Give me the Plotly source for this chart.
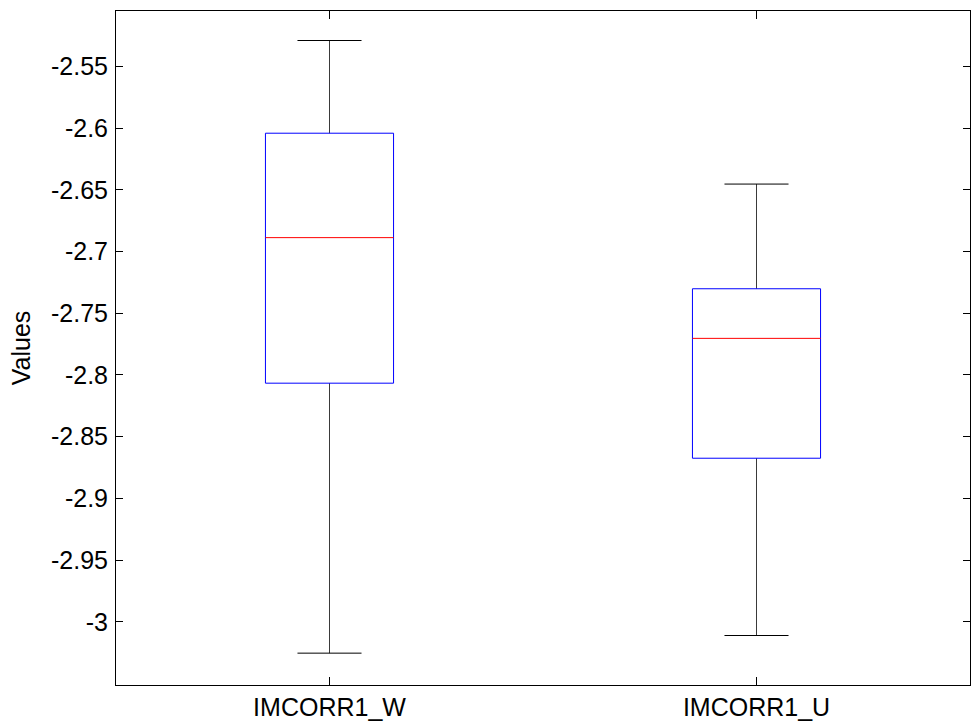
import plotly.graph_objects as go

categories = ["IMCORR1_W", "IMCORR1_U"]
positions = [1, 2]
q1 = [-2.8067, -2.8675]
median = [-2.6888, -2.7704]
q3 = [-2.6042, -2.7302]
lower_whisker = [-3.0254, -3.0111]
upper_whisker = [-2.5291, -2.6454]
ytick_vals = [-3.0, -2.95, -2.9, -2.85, -2.8, -2.75, -2.7, -2.65, -2.6, -2.55]
ytick_text = ["-3", "-2.95", "-2.9", "-2.85", "-2.8", "-2.75", "-2.7", "-2.65", "-2.6", "-2.55"]

box_w = 0.3
cap_w = 0.15

fig = go.Figure()

# whiskers (vertical)
wx, wy = [], []
for p, lo, a, b, hi in zip(positions, lower_whisker, q1, q3, upper_whisker):
    wx += [p, p, None, p, p, None]
    wy += [lo, a, None, b, hi, None]
fig.add_trace(go.Scatter(x=wx, y=wy, mode="lines", line=dict(color="#3a3a3a", width=1),
                         hoverinfo="skip", showlegend=False))

# caps
cx, cy = [], []
for p, lo, hi in zip(positions, lower_whisker, upper_whisker):
    cx += [p - cap_w / 2, p + cap_w / 2, None, p - cap_w / 2, p + cap_w / 2, None]
    cy += [lo, lo, None, hi, hi, None]
fig.add_trace(go.Scatter(x=cx, y=cy, mode="lines", line=dict(color="black", width=1),
                         hoverinfo="skip", showlegend=False))

# boxes (q1..q3 rectangles)
bx, by = [], []
for p, a, b in zip(positions, q1, q3):
    l, r = p - box_w / 2, p + box_w / 2
    bx += [l, r, r, l, l, None]
    by += [a, a, b, b, a, None]
fig.add_trace(go.Scatter(x=bx, y=by, mode="lines", line=dict(color="blue", width=1),
                         hoverinfo="skip", showlegend=False))

# medians
mx, my = [], []
for p, m in zip(positions, median):
    mx += [p - box_w / 2, p + box_w / 2, None]
    my += [m, m, None]
fig.add_trace(go.Scatter(x=mx, y=my, mode="lines", line=dict(color="red", width=1),
                         hoverinfo="skip", showlegend=False))

font = dict(family="Liberation Sans, Arial, sans-serif", size=25, color="black")

fig.update_layout(
    width=977, height=727,
    margin=dict(l=115.5, r=6, t=11, b=40),
    paper_bgcolor="white", plot_bgcolor="white",
    font=font,
    showlegend=False,
    xaxis=dict(range=[0.5, 2.5], tickvals=positions, ticktext=categories,
               showgrid=False, zeroline=False, showline=True, linecolor="black",
               linewidth=1, mirror="ticks", ticks="inside", ticklen=8,
               tickcolor="black", tickwidth=1, tickfont=font),
    yaxis=dict(range=[-3.0512, -2.5052], tickvals=ytick_vals, ticktext=ytick_text,
               showgrid=False, zeroline=False, showline=True, linecolor="black",
               linewidth=1, mirror="ticks", ticks="inside", ticklen=7,
               tickcolor="black", tickwidth=1, tickfont=font, ticklabelstandoff=2,
               title=dict(text="Values", font=font, standoff=13)),
)

fig.write_html("out.html")
